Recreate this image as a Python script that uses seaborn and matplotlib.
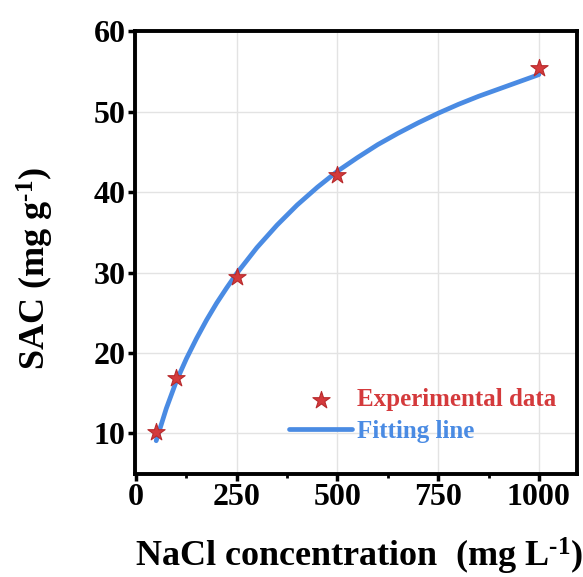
import numpy as np
import pandas as pd

import matplotlib
matplotlib.use("Agg")
import matplotlib.pyplot as plt
import seaborn as sns
from matplotlib.ticker import MultipleLocator

# experimental points
conc = [50, 100, 250, 500, 1000]
sac = [10.2, 16.9, 29.4, 42.1, 55.4]

# fitting curve
fit_conc = [50, 75, 100, 125, 150, 175, 200, 225, 250, 275, 300, 350, 400,
            450, 500, 550, 600, 650, 700, 750, 800, 850, 900, 950, 1000]
fit_sac = [9.1, 13.1, 16.5, 19.3, 21.8, 24.1, 26.2, 28.1, 29.9, 31.5, 33.1,
           35.9, 38.4, 40.6, 42.6, 44.3, 45.9, 47.3, 48.6, 49.8, 50.9, 51.9,
           52.8, 53.7, 54.6]

x_ticks = [0, 250, 500, 750, 1000]
y_ticks = [10, 20, 30, 40, 50, 60]

red = "#d43a3c"
blue = "#4a8be3"

sns.set_style("whitegrid", {"grid.color": "#e3e3e3", "text.color": "black",
                            "axes.labelcolor": "black",
                            "xtick.color": "black", "ytick.color": "black"})
plt.rcParams["font.family"] = ["Liberation Serif", "DejaVu Serif"]
plt.rcParams["font.weight"] = "bold"
plt.rcParams["mathtext.fontset"] = "custom"
plt.rcParams["mathtext.rm"] = "Liberation Serif:bold"
plt.rcParams["mathtext.it"] = "Liberation Serif:bold"
plt.rcParams["mathtext.bf"] = "Liberation Serif:bold"

df_pts = pd.DataFrame({"conc": conc, "sac": sac})
df_fit = pd.DataFrame({"conc": fit_conc, "sac": fit_sac})

fig, ax = plt.subplots(figsize=(5.83, 5.77), dpi=100)
fig.subplots_adjust(left=0.232, right=0.99, top=0.946, bottom=0.179)

sns.lineplot(data=df_fit, x="conc", y="sac", color=blue, linewidth=3.4,
             label="Fitting line", ax=ax, zorder=2)
sns.scatterplot(data=df_pts, x="conc", y="sac", marker="*", s=170,
                color=red, edgecolor="#b82a2c", linewidth=0.8,
                label="Experimental data", ax=ax, zorder=3)

ax.set_xlim(-2, 1095)
ax.set_ylim(5, 60)
ax.set_xticks(x_ticks)
ax.set_yticks(y_ticks)
ax.xaxis.set_minor_locator(MultipleLocator(125))
ax.grid(True, which="major", linewidth=1.0)
ax.grid(False, which="minor")

for sp in ax.spines.values():
    sp.set_visible(True)
    sp.set_color("black")
    sp.set_linewidth(2.8)

ax.tick_params(axis="both", which="major", direction="out", length=5,
               width=2.5, labelsize=23, pad=2, color="black",
               labelcolor="black", bottom=True, left=True)
ax.tick_params(axis="x", which="minor", direction="out", length=3,
               width=2.0, bottom=True, color="black")
for lab in ax.get_xticklabels() + ax.get_yticklabels():
    lab.set_fontweight("bold")

ax.set_xlabel(r"NaCl concentration  (mg L$^{\text{-1}}$)", fontsize=26,
              fontweight="bold", color="black", va="center")
ax.set_ylabel(r"SAC (mg g$^{\text{-1}}$)", fontsize=26, fontweight="bold",
              color="black", va="center")
ax.xaxis.set_label_coords(0.507, -0.187)
ax.yaxis.set_label_coords(-0.226, 0.465)

handles, labels = ax.get_legend_handles_labels()
order = [labels.index("Experimental data"), labels.index("Fitting line")]
leg = ax.legend([handles[i] for i in order], [labels[i] for i in order],
                loc="lower right", frameon=False, fontsize=18,
                handlelength=2.5, handletextpad=0.2, labelspacing=0.35,
                bbox_to_anchor=(0.975, 0.047), borderaxespad=0)
for txt, col in zip(leg.get_texts(), [red, blue]):
    txt.set_color(col)
    txt.set_fontweight("bold")

fig.savefig("out.png", dpi=100)
